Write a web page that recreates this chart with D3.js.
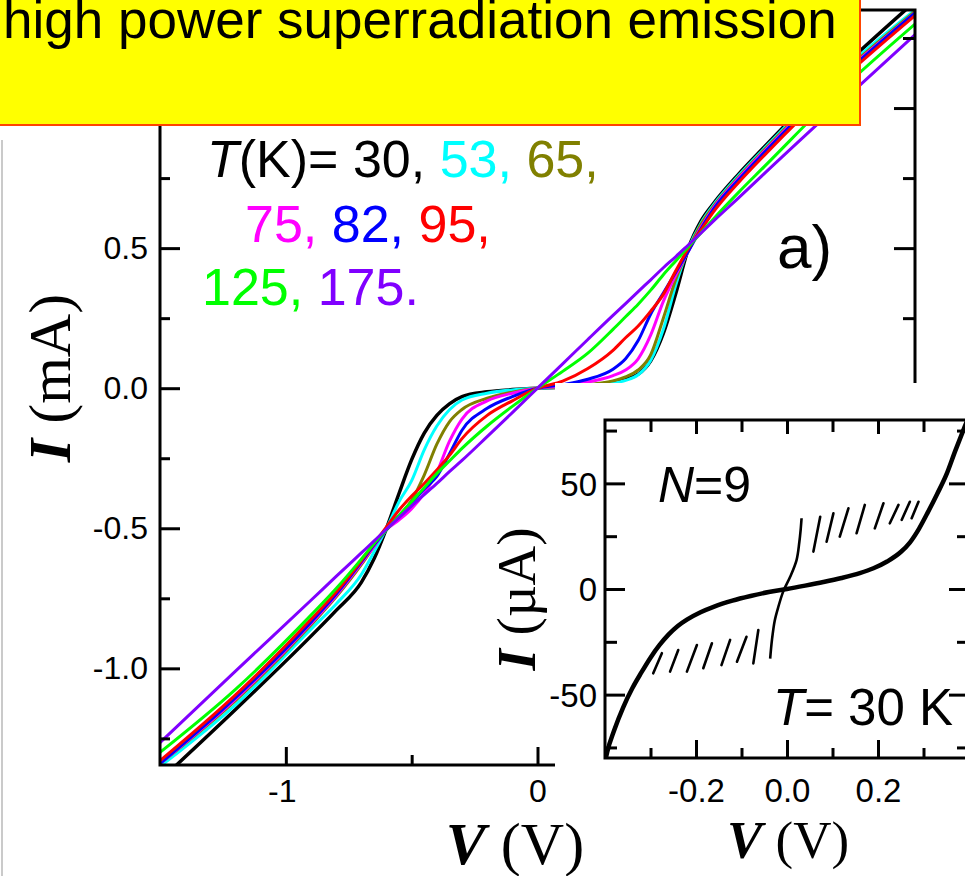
<!DOCTYPE html>
<html>
<head>
<meta charset="utf-8">
<script src="https://cdn.jsdelivr.net/npm/d3@7"></script>
<style>
html, body { margin: 0; padding: 0; background: #fff; }
svg { display: block; }
</style>
</head>
<body>
<div id="app"></div>
<script>
// main panel: I-V curves, V in volts, I in mA
const voltage = [-1.5, -1.2, -0.9, -0.8, -0.7, -0.65, -0.6, -0.55, -0.5, -0.45, -0.4, -0.35, -0.3, -0.2, -0.1, 0,
  0.1, 0.2, 0.3, 0.35, 0.4, 0.45, 0.5, 0.55, 0.6, 0.65, 0.7, 0.8, 0.9, 1.2, 1.5];
const temps = [30, 53, 65, 75, 82, 95, 125, 175];
const current30 = [-1.40, -1.147, -0.885, -0.793, -0.693, -0.61, -0.50, -0.375, -0.255, -0.16, -0.097, -0.056, -0.03, -0.013, -0.005, 0,
  0.003, 0.009, 0.022, 0.032, 0.05, 0.098, 0.196, 0.34, 0.50, 0.597, 0.66, 0.765, 0.86, 1.135, 1.38];
const current53 = [-1.35, -1.13, -0.86, -0.77, -0.665, -0.585, -0.50, -0.405, -0.33, -0.22, -0.135, -0.077, -0.042, -0.018, -0.006, 0,
  0.004, 0.01, 0.018, 0.028, 0.048, 0.10, 0.21, 0.37, 0.50, 0.59, 0.655, 0.76, 0.855, 1.125, 1.35];
const current65 = [-1.34, -1.115, -0.845, -0.745, -0.63, -0.565, -0.50, -0.455, -0.40, -0.31, -0.20, -0.12, -0.076, -0.036, -0.014, 0,
  0.005, 0.013, 0.026, 0.04, 0.065, 0.12, 0.25, 0.39, 0.495, 0.585, 0.65, 0.755, 0.85, 1.115, 1.345];
const current75 = [-1.34, -1.11, -0.84, -0.74, -0.625, -0.565, -0.505, -0.47, -0.43, -0.375, -0.30, -0.19, -0.11, -0.045, -0.018, 0,
  0.008, 0.022, 0.045, 0.065, 0.105, 0.19, 0.31, 0.405, 0.49, 0.575, 0.645, 0.75, 0.845, 1.11, 1.34];
const current82 = [-1.34, -1.105, -0.835, -0.735, -0.62, -0.56, -0.505, -0.455, -0.41, -0.36, -0.315, -0.235, -0.15, -0.072, -0.03, 0,
  0.013, 0.032, 0.068, 0.105, 0.17, 0.265, 0.34, 0.415, 0.49, 0.57, 0.64, 0.745, 0.84, 1.105, 1.34];
const current95 = [-1.33, -1.095, -0.825, -0.728, -0.615, -0.555, -0.495, -0.435, -0.385, -0.34, -0.292, -0.24, -0.18, -0.097, -0.045, 0,
  0.025, 0.07, 0.135, 0.18, 0.222, 0.275, 0.335, 0.42, 0.5, 0.565, 0.63, 0.735, 0.83, 1.095, 1.33];
const current125 = [-1.30, -1.075, -0.81, -0.715, -0.61, -0.555, -0.505, -0.455, -0.405, -0.355, -0.305, -0.26, -0.215, -0.135, -0.065, 0,
  0.06, 0.125, 0.21, 0.255, 0.30, 0.35, 0.405, 0.455, 0.505, 0.555, 0.605, 0.70, 0.79, 1.06, 1.30];
const current175 = [-1.265, -1.01, -0.757, -0.672, -0.588, -0.546, -0.503, -0.462, -0.42, -0.38, -0.34, -0.298, -0.258, -0.173, -0.087, 0,
  0.087, 0.174, 0.26, 0.302, 0.345, 0.387, 0.43, 0.47, 0.512, 0.554, 0.597, 0.68, 0.765, 1.015, 1.262];
const currents = [current30, current53, current65, current75, current82, current95, current125, current175];
const colors = ['#000000', '#00ffff', '#808000', '#ff00ff', '#0000ff', '#ff0000', '#00ff00', '#8000ff'];

const mainXTicks = [-1, 0];
const mainXMinor = [-0.5, 0.5];
const mainYTicks = [-1.0, -0.5, 0.0, 0.5, 1.0];
const mainYMinor = [-1.25, -0.75, -0.25, 0.25, 0.75, 1.25];

// inset: N=9 stack at 30 K, V in volts, I in microamps
const insetCurve = [[-0.4, -82], [-0.395, -77], [-0.38, -67], [-0.36, -56], [-0.34, -47], [-0.32, -39.5], [-0.30, -32.5],
  [-0.28, -26.5], [-0.26, -21.5], [-0.24, -17.5], [-0.22, -14.5], [-0.19, -11], [-0.16, -8.3], [-0.12, -5.5],
  [-0.08, -3.3], [-0.04, -1.4], [0, 0], [0.04, 1.6], [0.08, 3.3], [0.12, 5.2], [0.16, 7.5], [0.19, 9.8],
  [0.22, 13], [0.25, 17.5], [0.27, 22], [0.29, 28.5], [0.31, 36.5], [0.33, 45], [0.35, 54], [0.37, 65.5],
  [0.39, 76.5], [0.4, 82]];
const insetCentral = [[-0.037, -33], [-0.033, -24], [-0.027, -15], [-0.019, -8.4], [-0.008, -1], [0.007, 5.8],
  [0.021, 13.7], [0.027, 22], [0.03, 28], [0.032, 33.5]];
const insetSteps = [
  [[0.058, 17.7], [0.073, 34.2]], [[0.087, 22.4], [0.102, 35.8]], [[0.116, 24.8], [0.135, 38.2]],
  [[0.153, 26.4], [0.171, 39.8]], [[0.193, 28.7], [0.212, 40.6]], [[0.226, 31.1], [0.245, 39.8]],
  [[0.252, 32.7], [0.270, 41.3]], [[0.274, 33.5], [0.289, 41.3]],
  [[-0.294, -39.9], [-0.275, -30.4]], [[-0.257, -39.1], [-0.239, -28.9]], [[-0.22, -39.1], [-0.198, -26.5]],
  [[-0.184, -37.5], [-0.165, -25.7]], [[-0.144, -36], [-0.125, -24.1]], [[-0.11, -34.4], [-0.089, -22.6]],
  [[-0.074, -35.2], [-0.063, -19.4]]
];
const insetXTicks = [-0.2, 0, 0.2];
const insetXMinor = [-0.3, -0.1, 0.1, 0.3];
const insetYTicks = [-50, 0, 50];
const insetYMinor = [-75, -25, 25, 75];

const sans = "'Liberation Sans', Arial, Helvetica, sans-serif";
const serif = "'Liberation Serif', 'Times New Roman', serif";

const svg = d3.select('#app').append('svg')
  .attr('width', 965)
  .attr('height', 876);

const styleAxis = (g, size) => {
  g.select('.domain').remove();
  g.selectAll('.tick line').attr('stroke', '#000').attr('stroke-width', 3);
  g.selectAll('.tick text').attr('fill', '#000')
    .style('font-family', sans).style('font-size', size + 'px');
};

// ---- main panel
const x = d3.scaleLinear().domain([-1.5, 1.5]).range([160, 915]);
const y = d3.scaleLinear().domain([-1.345, 1.35]).range([765, 10]);

svg.append('line')
  .attr('x1', 2).attr('x2', 2).attr('y1', 140).attr('y2', 876)
  .attr('stroke', '#b8b8b8').attr('stroke-width', 1.5);

svg.append('defs').append('clipPath').attr('id', 'mainClip')
  .append('rect').attr('x', 160).attr('y', 10).attr('width', 755).attr('height', 755);

const line = d3.line()
  .x(d => x(d[0]))
  .y(d => y(d[1]))
  .curve(d3.curveMonotoneX);

svg.append('g').attr('clip-path', 'url(#mainClip)')
  .selectAll('path')
  .data(currents)
  .enter()
  .append('path')
  .attr('d', c => line(voltage.map((v, i) => [v, c[i]])))
  .attr('fill', 'none')
  .attr('stroke', (c, i) => colors[i])
  .attr('stroke-width', (c, i) => i === 0 ? 3.5 : 3)
  .attr('stroke-linejoin', 'round');

const fmt1 = d => d.toFixed(1);

svg.append('g').attr('transform', 'translate(160,0)')
  .call(d3.axisLeft(y).tickValues(mainYTicks).tickSize(-20).tickPadding(12).tickFormat(fmt1))
  .call(g => styleAxis(g, 32));
svg.append('g').attr('transform', 'translate(160,0)')
  .call(d3.axisLeft(y).tickValues(mainYMinor).tickSize(-10).tickFormat(''))
  .call(g => styleAxis(g, 32));

svg.append('g').attr('transform', 'translate(915,0)')
  .call(d3.axisRight(y).tickValues(mainYTicks).tickSize(-21).tickFormat(''))
  .call(g => styleAxis(g, 32));
svg.append('g').attr('transform', 'translate(915,0)')
  .call(d3.axisRight(y).tickValues(mainYMinor).tickSize(-12).tickFormat(''))
  .call(g => styleAxis(g, 32));

svg.append('g').attr('transform', 'translate(0,765)')
  .call(d3.axisBottom(x).tickValues(mainXTicks).tickSize(-18).tickFormat(d => String(d)))
  .call(g => styleAxis(g, 32))
  .call(g => g.selectAll('.tick text').attr('y', 37).attr('dy', 0).attr('dx', d => d < 0 ? -4 : 0));
svg.append('g').attr('transform', 'translate(0,765)')
  .call(d3.axisBottom(x).tickValues(mainXMinor).tickSize(-10).tickFormat(''))
  .call(g => styleAxis(g, 32));

svg.append('rect')
  .attr('x', 160).attr('y', 10).attr('width', 755).attr('height', 755)
  .attr('fill', 'none').attr('stroke', '#000').attr('stroke-width', 3);

const yTitle = svg.append('text')
  .attr('transform', 'translate(70,378) rotate(-90)')
  .attr('text-anchor', 'middle')
  .style('font-family', serif).style('font-size', '60px');
yTitle.append('tspan').attr('font-weight', 'bold').attr('font-style', 'italic').text('I');
yTitle.append('tspan').text(' (mA)');

// legend of temperatures
const legendRows = [[0, 1, 2], [3, 4, 5], [6, 7]];
const legendPos = [[207, 177], [245, 242], [202, 305]];
legendRows.forEach((row, r) => {
  const t = svg.append('text')
    .attr('x', legendPos[r][0]).attr('y', legendPos[r][1])
    .style('font-family', sans).style('font-size', '52px');
  if (r === 0) {
    t.append('tspan').attr('font-style', 'italic').text('T');
    t.append('tspan').text('(K)= ');
  }
  row.forEach((k, j) => {
    const end = k === temps.length - 1 ? '.' : ',';
    t.append('tspan')
      .attr('fill', colors[k])
      .text(temps[k] + end + (j < row.length - 1 ? ' ' : ''));
  });
});

svg.append('text')
  .attr('x', 777).attr('y', 268)
  .style('font-family', sans).style('font-size', '62px')
  .text('a)');

// ---- inset
svg.append('rect')
  .attr('x', 555).attr('y', 383).attr('width', 420).attr('height', 500)
  .attr('fill', '#fff');

const ix = d3.scaleLinear().domain([-0.4, 0.4]).range([605, 969]);
const iy = d3.scaleLinear().domain([-80, 80]).range([758, 420]);

svg.append('defs').append('clipPath').attr('id', 'insetClip')
  .append('rect').attr('x', 605).attr('y', 420).attr('width', 364).attr('height', 338);

const iline = d3.line()
  .x(d => ix(d[0]))
  .y(d => iy(d[1]))
  .curve(d3.curveMonotoneX);
const ibranch = d3.line()
  .x(d => ix(d[0]))
  .y(d => iy(d[1]))
  .curve(d3.curveCatmullRom);
const istep = d3.line()
  .x(d => ix(d[0]))
  .y(d => iy(d[1]));

const inset = svg.append('g').attr('clip-path', 'url(#insetClip)');
inset.append('path')
  .attr('d', iline(insetCurve))
  .attr('fill', 'none').attr('stroke', '#000').attr('stroke-width', 4.5)
  .attr('stroke-linejoin', 'round');
inset.append('path')
  .attr('d', ibranch(insetCentral))
  .attr('fill', 'none').attr('stroke', '#000').attr('stroke-width', 2.6);
inset.selectAll('.step')
  .data(insetSteps)
  .enter()
  .append('path')
  .attr('class', 'step')
  .attr('d', d => istep(d))
  .attr('fill', 'none').attr('stroke', '#000').attr('stroke-width', 2.6)
  .attr('stroke-linecap', 'round');

svg.append('g').attr('transform', 'translate(605,0)')
  .call(d3.axisLeft(iy).tickValues(insetYTicks).tickSize(-20).tickPadding(8).tickFormat(d => String(d)))
  .call(g => styleAxis(g, 33))
  .call(g => g.selectAll('.tick text').attr('dy', '0.36em'));
svg.append('g').attr('transform', 'translate(605,0)')
  .call(d3.axisLeft(iy).tickValues(insetYMinor).tickSize(-12).tickFormat(''))
  .call(g => styleAxis(g, 33));
svg.append('g').attr('transform', 'translate(969,0)')
  .call(d3.axisRight(iy).tickValues(insetYTicks).tickSize(-20).tickFormat(''))
  .call(g => styleAxis(g, 33));
svg.append('g').attr('transform', 'translate(969,0)')
  .call(d3.axisRight(iy).tickValues(insetYMinor).tickSize(-12).tickFormat(''))
  .call(g => styleAxis(g, 33));

svg.append('g').attr('transform', 'translate(0,758)')
  .call(d3.axisBottom(ix).tickValues(insetXTicks).tickSize(-18).tickFormat(fmt1))
  .call(g => styleAxis(g, 33))
  .call(g => g.selectAll('.tick text').attr('y', 44).attr('dy', 0));
svg.append('g').attr('transform', 'translate(0,758)')
  .call(d3.axisBottom(ix).tickValues(insetXMinor).tickSize(-10).tickFormat(''))
  .call(g => styleAxis(g, 33));
svg.append('g').attr('transform', 'translate(0,420)')
  .call(d3.axisTop(ix).tickValues(insetXTicks).tickSize(-14).tickFormat(''))
  .call(g => styleAxis(g, 33));
svg.append('g').attr('transform', 'translate(0,420)')
  .call(d3.axisTop(ix).tickValues(insetXMinor).tickSize(-12).tickFormat(''))
  .call(g => styleAxis(g, 33));

svg.append('rect')
  .attr('x', 605).attr('y', 420).attr('width', 364).attr('height', 338)
  .attr('fill', 'none').attr('stroke', '#000').attr('stroke-width', 3);

const ixTitle = svg.append('text')
  .attr('x', 788).attr('y', 858)
  .attr('text-anchor', 'middle')
  .style('font-family', serif).style('font-size', '53px');
ixTitle.append('tspan').attr('font-weight', 'bold').attr('font-style', 'italic').text('V');
ixTitle.append('tspan').text(' (V)');

const iyTitle = svg.append('text')
  .attr('transform', 'translate(535,599) rotate(-90)')
  .attr('text-anchor', 'middle')
  .style('font-family', serif).style('font-size', '55px');
iyTitle.append('tspan').attr('font-weight', 'bold').attr('font-style', 'italic').text('I');
iyTitle.append('tspan').text(' (\u00b5A)');

const nLabel = svg.append('text')
  .attr('x', 658).attr('y', 502)
  .style('font-family', sans).style('font-size', '50px');
nLabel.append('tspan').attr('font-style', 'italic').text('N');
nLabel.append('tspan').text('=9');

const tLabel = svg.append('text')
  .attr('x', 773).attr('y', 725)
  .style('font-family', sans).style('font-size', '51px');
tLabel.append('tspan').attr('font-style', 'italic').text('T');
tLabel.append('tspan').text('= 30 K');

// main x title sits over the inset's white margin
const xTitle = svg.append('text')
  .attr('x', 515).attr('y', 864)
  .attr('text-anchor', 'middle')
  .style('font-family', serif).style('font-size', '60px');
xTitle.append('tspan').attr('font-weight', 'bold').attr('font-style', 'italic').text('V');
xTitle.append('tspan').text(' (V)');

// ---- yellow note box
svg.append('rect')
  .attr('x', -2).attr('y', -2).attr('width', 862).attr('height', 127)
  .attr('fill', '#ffff00').attr('stroke', '#ff4500').attr('stroke-width', 2);
svg.append('text')
  .attr('x', 3).attr('y', 38)
  .style('font-family', sans).style('font-size', '53px')
  .text('high power superradiation emission');
</script>
</body>
</html>
